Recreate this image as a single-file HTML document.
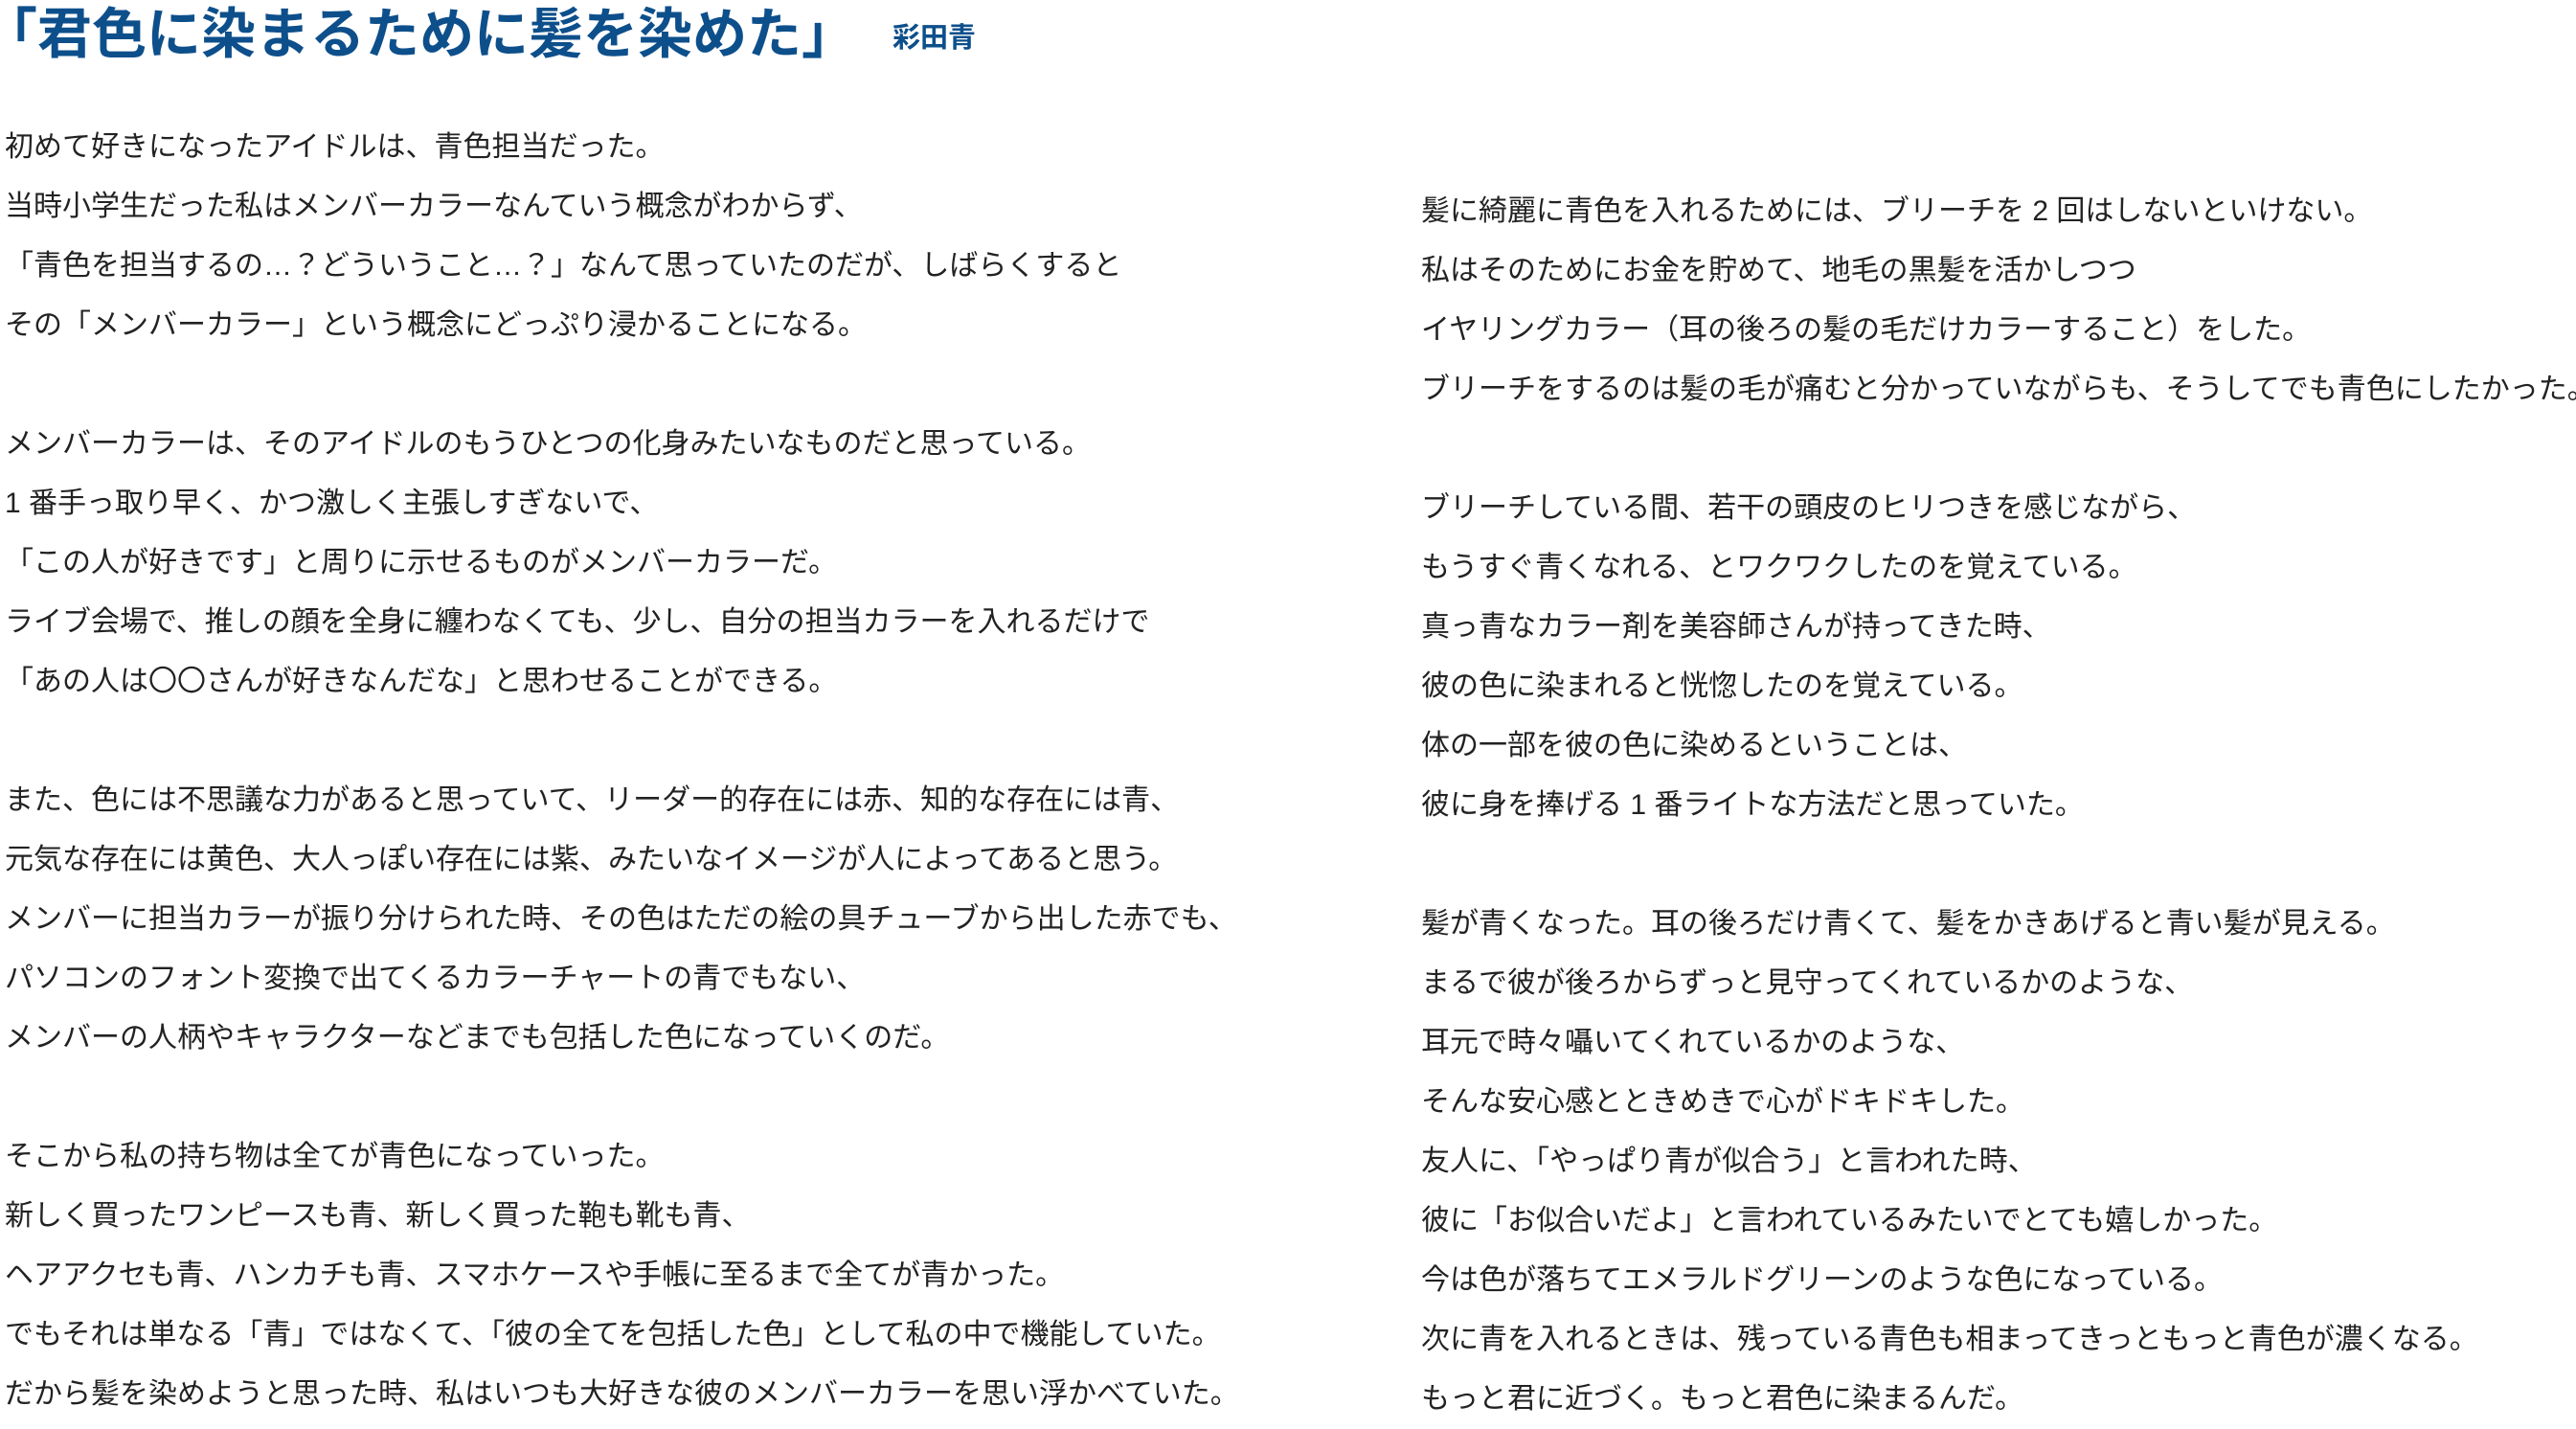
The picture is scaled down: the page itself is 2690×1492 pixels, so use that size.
<!DOCTYPE html>
<html><head><meta charset="utf-8">
<style>
html,body{margin:0;padding:0;background:#fff;}
body{width:2690px;height:1476px;position:relative;overflow:hidden;font-family:"Liberation Sans","Noto Sans CJK JP",sans-serif;}
.t{position:absolute;left:-18px;top:4px;font-size:57px;line-height:64px;color:#0d4f8b;font-weight:bold;white-space:nowrap;}
.a{position:absolute;left:932px;top:22px;font-size:29px;line-height:36px;color:#0d4f8b;font-weight:bold;}
.c{position:absolute;font-size:30px;line-height:62px;color:#222;white-space:nowrap;}
.c div{height:62px;}
</style></head><body>
<div class="t">「君色に染まるために髪を染めた」</div>
<div class="a">彩田青</div>
<div class="c" style="left:5px;top:123px;">
<div>初めて好きになったアイドルは、青色担当だった。</div>
<div>当時小学生だった私はメンバーカラーなんていう概念がわからず、</div>
<div>「青色を担当するの…？どういうこと…？」なんて思っていたのだが、しばらくすると</div>
<div>その「メンバーカラー」という概念にどっぷり浸かることになる。</div>
<div></div>
<div>メンバーカラーは、そのアイドルのもうひとつの化身みたいなものだと思っている。</div>
<div>1 番手っ取り早く、かつ激しく主張しすぎないで、</div>
<div>「この人が好きです」と周りに示せるものがメンバーカラーだ。</div>
<div>ライブ会場で、推しの顔を全身に纏わなくても、少し、自分の担当カラーを入れるだけで</div>
<div>「あの人は〇〇さんが好きなんだな」と思わせることができる。</div>
<div></div>
<div>また、色には不思議な力があると思っていて、リーダー的存在には赤、知的な存在には青、</div>
<div>元気な存在には黄色、大人っぽい存在には紫、みたいなイメージが人によってあると思う。</div>
<div>メンバーに担当カラーが振り分けられた時、その色はただの絵の具チューブから出した赤でも、</div>
<div>パソコンのフォント変換で出てくるカラーチャートの青でもない、</div>
<div>メンバーの人柄やキャラクターなどまでも包括した色になっていくのだ。</div>
<div></div>
<div>そこから私の持ち物は全てが青色になっていった。</div>
<div>新しく買ったワンピースも青、新しく買った鞄も靴も青、</div>
<div>ヘアアクセも青、ハンカチも青、スマホケースや手帳に至るまで全てが青かった。</div>
<div>でもそれは単なる「青」ではなくて、「彼の全てを包括した色」として私の中で機能していた。</div>
<div>だから髪を染めようと思った時、私はいつも大好きな彼のメンバーカラーを思い浮かべていた。</div>
</div>
<div class="c" style="left:1484px;top:190px;">
<div>髪に綺麗に青色を入れるためには、ブリーチを 2 回はしないといけない。</div>
<div>私はそのためにお金を貯めて、地毛の黒髪を活かしつつ</div>
<div>イヤリングカラー（耳の後ろの髪の毛だけカラーすること）をした。</div>
<div>ブリーチをするのは髪の毛が痛むと分かっていながらも、そうしてでも青色にしたかった。</div>
<div></div>
<div>ブリーチしている間、若干の頭皮のヒリつきを感じながら、</div>
<div>もうすぐ青くなれる、とワクワクしたのを覚えている。</div>
<div>真っ青なカラー剤を美容師さんが持ってきた時、</div>
<div>彼の色に染まれると恍惚したのを覚えている。</div>
<div>体の一部を彼の色に染めるということは、</div>
<div>彼に身を捧げる 1 番ライトな方法だと思っていた。</div>
<div></div>
<div>髪が青くなった。耳の後ろだけ青くて、髪をかきあげると青い髪が見える。</div>
<div>まるで彼が後ろからずっと見守ってくれているかのような、</div>
<div>耳元で時々囁いてくれているかのような、</div>
<div>そんな安心感とときめきで心がドキドキした。</div>
<div>友人に、「やっぱり青が似合う」と言われた時、</div>
<div>彼に「お似合いだよ」と言われているみたいでとても嬉しかった。</div>
<div>今は色が落ちてエメラルドグリーンのような色になっている。</div>
<div>次に青を入れるときは、残っている青色も相まってきっともっと青色が濃くなる。</div>
<div>もっと君に近づく。もっと君色に染まるんだ。</div>
</div>
</body></html>
